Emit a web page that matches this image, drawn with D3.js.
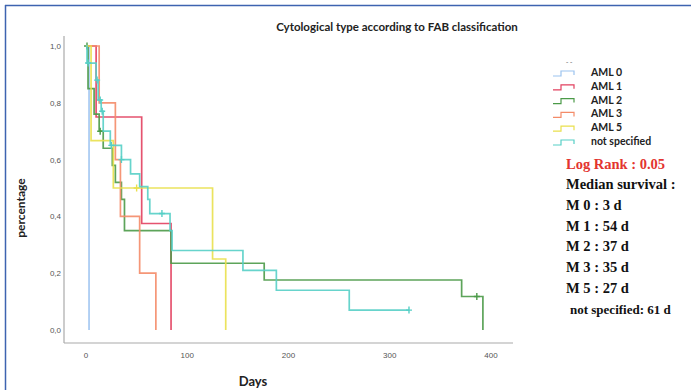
<!DOCTYPE html>
<html>
<head>
<meta charset="utf-8">
<script src="https://cdnjs.cloudflare.com/ajax/libs/d3/7.8.5/d3.min.js"></script>
<style>
    body { margin: 0; background: #fff; }
    .tick-label { font-family: "Liberation Sans", Arial, sans-serif; font-size: 8px; fill: #555; }
    .legend-text { font-family: Lato, "Open Sans", sans-serif; font-size: 10.5px; font-weight: 700; fill: #222; }
    .stat-text { font-family: "Liberation Serif", "Times New Roman", serif; font-size: 14.5px; font-weight: 700; fill: #111; }
</style>
</head>
<body>
<div id="canvas-svg"></div>
<script>
var groups = ["AML 0", "AML 1", "AML 2", "AML 3", "AML 5", "not specified"];
var colors = ["#9cc3ef", "#e2405f", "#4b9a48", "#f48b68", "#e9e04c", "#56cfc6"];

// step points: survival after the event at that day
var aml0Days = [0, 3];
var aml0Surv = [1, 0];
var aml1Days = [0, 10, 55, 84];
var aml1Surv = [1, 0.75, 0.375, 0];
var aml2Days = [0, 2, 8, 13, 17, 26, 29, 35, 38, 84, 176, 371, 392];
var aml2Surv = [1, 0.85, 0.76, 0.70, 0.64, 0.58, 0.52, 0.46, 0.35, 0.235, 0.176, 0.118, 0];
var aml3Days = [0, 13, 29, 34, 53, 69];
var aml3Surv = [1, 0.8, 0.6, 0.4, 0.2, 0];
var aml5Days = [0, 5, 27, 125, 138];
var aml5Surv = [1, 0.667, 0.5, 0.25, 0];
var nsDays = [0, 1, 10, 12, 15, 17, 24, 35, 44, 53, 61, 63, 83, 85, 155, 188, 260, 319];
var nsSurv = [1, 0.94, 0.88, 0.81, 0.77, 0.70, 0.65, 0.60, 0.55, 0.505, 0.46, 0.41, 0.35, 0.28, 0.21, 0.14, 0.07, 0.07];

// censored cases
var aml2Censor = [[1, 1.0], [14, 0.70], [386, 0.118]];
var aml5Censor = [[50, 0.5]];
var nsCensor = [[2, 0.94], [11, 0.88], [14, 0.81], [16, 0.77], [25, 0.65], [35, 0.60], [75, 0.41], [319, 0.07]];

var xTicks = [0, 100, 200, 300, 400];
var yTicks = [0, 0.2, 0.4, 0.6, 0.8, 1.0];

var statLines = ["Median survival :", "M 0 : 3 d", "M 1 : 54 d", "M 2 : 37 d", "M 3 : 35 d", "M 5 : 27 d", "not specified: 61 d"];

var width = 691, height = 390;

var svg = d3.select("#canvas-svg").append("svg")
    .attr("width", width)
    .attr("height", height);

// blue frame (top and left only)
svg.append("line").attr("x1", 5).attr("x2", width).attr("y1", 5.5).attr("y2", 5.5)
    .attr("stroke", "#3d63b0").attr("stroke-width", 1.5);
svg.append("line").attr("x1", 5.5).attr("x2", 5.5).attr("y1", 5).attr("y2", height)
    .attr("stroke", "#3d63b0").attr("stroke-width", 1.5);

var x = d3.scaleLinear().domain([0, 400]).range([86, 491]);
var y = d3.scaleLinear().domain([0, 1]).range([330, 46]);

// axes
svg.append("line").attr("x1", 64).attr("x2", 64).attr("y1", 36).attr("y2", 343)
    .attr("stroke", "#aaa").attr("stroke-width", 1.2);
svg.append("line").attr("x1", 64).attr("x2", 513).attr("y1", 343).attr("y2", 343)
    .attr("stroke", "#aaa").attr("stroke-width", 1.2);

var fmt = function(d) { return d3.format(".1f")(d).replace(".", ","); };

svg.append("g").selectAll("text").data(yTicks).enter().append("text")
    .attr("class", "tick-label")
    .attr("x", 61)
    .attr("y", function(d) { return y(d) + 3; })
    .attr("text-anchor", "end")
    .text(fmt);

svg.append("g").selectAll("text").data(xTicks).enter().append("text")
    .attr("class", "tick-label")
    .attr("x", function(d) { return x(d); })
    .attr("y", 358)
    .attr("text-anchor", "middle")
    .text(function(d) { return d; });

svg.append("text")
    .attr("x", 253).attr("y", 386)
    .attr("text-anchor", "middle")
    .style("font-family", "Lato, sans-serif").style("font-size", "13px").style("font-weight", "700").style("fill", "#222")
    .text("Days");

svg.append("text")
    .attr("transform", "translate(25,208) rotate(-90)")
    .attr("text-anchor", "middle")
    .style("font-family", "Lato, sans-serif").style("font-size", "12px").style("font-weight", "700").style("fill", "#222")
    .text("percentage");

svg.append("text")
    .attr("x", 397).attr("y", 31)
    .attr("text-anchor", "middle")
    .style("font-family", "Lato, sans-serif").style("font-size", "11.5px").style("font-weight", "700").style("fill", "#222")
    .text("Cytological type according to FAB classification");

// curves
var series = [
    {days: aml0Days, surv: aml0Surv, censor: []},
    {days: aml1Days, surv: aml1Surv, censor: []},
    {days: aml2Days, surv: aml2Surv, censor: aml2Censor},
    {days: aml3Days, surv: aml3Surv, censor: []},
    {days: aml5Days, surv: aml5Surv, censor: aml5Censor},
    {days: nsDays, surv: nsSurv, censor: nsCensor}
];

var line = d3.line()
    .x(function(d) { return x(d[0]); })
    .y(function(d) { return y(d[1]); })
    .curve(d3.curveStepAfter);

var g = svg.append("g");

series.forEach(function(s, i) {
    var pts = s.days.map(function(d, j) { return [d, s.surv[j]]; });
    g.append("path")
        .datum(pts)
        .attr("d", line)
        .attr("fill", "none")
        .attr("stroke", colors[i])
        .attr("stroke-width", 1.7)
        .attr("stroke-opacity", 0.9);

    g.selectAll(".c" + i).data(s.censor).enter().append("path")
        .attr("class", "c" + i)
        .attr("d", function(d) {
            var cx = x(d[0]), cy = y(d[1]);
            return "M" + (cx - 3) + "," + cy + "H" + (cx + 3) + "M" + cx + "," + (cy - 3.5) + "V" + (cy + 3.5);
        })
        .attr("stroke", colors[i])
        .attr("stroke-width", 1.4);
});

// legend
var legend = svg.append("g");
legend.append("text").attr("x", 566).attr("y", 64)
    .style("font-size", "7px").style("fill", "#444").text("- -");

groups.forEach(function(name, i) {
    var ly = 73 + i * 13.8;
    legend.append("path")
        .attr("d", "M553," + (ly + 3) + "H561V" + (ly - 2) + "H574V" + (ly + 2))
        .attr("fill", "none")
        .attr("stroke", colors[i])
        .attr("stroke-width", 1.2);
    legend.append("text")
        .attr("class", "legend-text")
        .attr("x", 591)
        .attr("y", ly + 3)
        .text(name);
});

svg.append("text")
    .attr("class", "stat-text")
    .attr("x", 566).attr("y", 169)
    .style("fill", "#e3342f")
    .text("Log Rank : 0.05");

svg.append("g").selectAll("text").data(statLines).enter().append("text")
    .attr("class", "stat-text")
    .attr("x", function(d, i) { return i === statLines.length - 1 ? 570 : 566; })
    .attr("y", function(d, i) { return 189 + i * 20.8; })
    .style("font-size", function(d, i) { return i === statLines.length - 1 ? "13px" : null; })
    .text(function(d) { return d; });
</script>
</body>
</html>
